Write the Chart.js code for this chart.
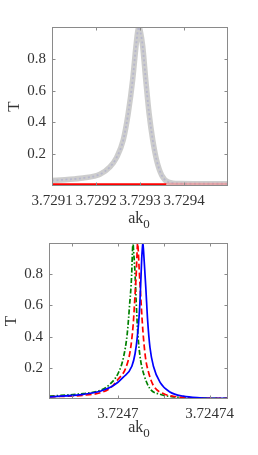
<!DOCTYPE html>
<html><head><meta charset="utf-8">
<script src="https://cdn.jsdelivr.net/npm/chart.js@4.4.0/dist/chart.umd.min.js"></script>
<style>
html,body{margin:0;padding:0;background:#fff;width:258px;height:455px;overflow:hidden}
canvas{position:absolute;left:0}
</style></head><body>
<canvas id="c1" width="258" height="228" style="top:0"></canvas>
<canvas id="c2" width="258" height="227" style="top:228px"></canvas>
<script>
// ---- top panel data ----
const topX = [3.7291000,3.7291300,3.7291705,3.7292091,3.7292318,3.7292470,3.7292620,3.7292734,3.7292834,3.7292909,3.7292950,3.7292977,3.7293010,3.7293061,3.7293130,3.7293205,3.7293289,3.7293380,3.7293493,3.7293643,3.7293909,3.7294360,3.7295000];
const topT = [0.034,0.040,0.050,0.074,0.120,0.180,0.290,0.460,0.670,0.880,0.975,1.000,0.970,0.880,0.670,0.460,0.290,0.160,0.068,0.025,0.015,0.014,0.014];
const topRedX = [3.7291000,3.7293600];
const topRedT = [0.008,0.008];
const topPinkX = [3.7293600,3.7295000];
const topPinkT = [0.012,0.012];
const topXTicks = [3.7291,3.7292,3.7293,3.7294];
const topXTickLabels = ['3.7291','3.7292','3.7293','3.7294'];
const yTicks = [0.2,0.4,0.6,0.8];
const yTickLabels = ['0.2','0.4','0.6','0.8'];

// ---- bottom panel data ----
const blueX = [3.7246703,3.7246850,3.7246923,3.7246981,3.7247024,3.7247061,3.7247075,3.7247085,3.7247094,3.7247100,3.7247104,3.7247107,3.7247109,3.7247111,3.7247115,3.7247122,3.7247130,3.7247140,3.7247155,3.7247184,3.7247227,3.7247285,3.7247358,3.7247478];
const blueT = [0.014,0.030,0.050,0.086,0.140,0.210,0.290,0.400,0.560,0.750,0.900,0.970,1.000,0.970,0.880,0.710,0.500,0.330,0.210,0.107,0.045,0.018,0.008,0.004];
const redX = [3.7246703,3.7246850,3.7246923,3.7246967,3.7247003,3.7247032,3.7247054,3.7247067,3.7247075,3.7247081,3.7247084,3.7247086,3.7247089,3.7247093,3.7247100,3.7247109,3.7247120,3.7247134,3.7247155,3.7247198,3.7247257,3.7247358,3.7247478];
const redT = [0.014,0.024,0.040,0.070,0.130,0.190,0.310,0.480,0.670,0.830,0.950,1.000,0.950,0.830,0.650,0.440,0.270,0.170,0.086,0.035,0.014,0.006,0.004];
const greenX = [3.7246703,3.7246850,3.7246923,3.7246967,3.7247003,3.7247025,3.7247041,3.7247051,3.7247060,3.7247063,3.7247066,3.7247069,3.7247074,3.7247080,3.7247087,3.7247099,3.7247115,3.7247140,3.7247184,3.7247242,3.7247358,3.7247478];
const greenT = [0.018,0.035,0.055,0.097,0.170,0.270,0.420,0.600,0.790,0.920,1.000,0.940,0.830,0.620,0.420,0.250,0.150,0.066,0.030,0.014,0.006,0.004];
const botXTicks = [3.72468,3.7247,3.72472,3.72474];
const botXTickLabels = ['','3.7247','','3.72474'];

const pts = (xs, ys) => xs.map((v, i) => ({x: v, y: ys[i]}));

const FAM = '"Times New Roman","Liberation Serif","DejaVu Serif",serif';
Chart.defaults.font.family = FAM;
Chart.defaults.color = '#333';

const frame = {
  id: 'frame',
  afterDatasetsDraw(chart, args, o) {
    const {ctx, chartArea: a} = chart;
    const xs = chart.scales.x, ys = chart.scales.y;
    ctx.save();
    ctx.strokeStyle = '#8a8a8a';
    ctx.lineWidth = 1;
    const L = Math.round(a.left) + 0.5, R = Math.round(a.right) - 0.5;
    const T = Math.round(a.top) + 0.5, B = Math.round(a.bottom) - 0.5;
    ctx.strokeRect(L, T, R - L, B - T);
    ctx.beginPath();
    xs.ticks.forEach(t => {
      const p = Math.round(xs.getPixelForValue(t.value)) + 0.5;
      ctx.moveTo(p, B); ctx.lineTo(p, B - 3);
      ctx.moveTo(p, T); ctx.lineTo(p, T + 3);
    });
    ys.ticks.forEach(t => {
      const p = Math.round(ys.getPixelForValue(t.value)) + 0.5;
      ctx.moveTo(L, p); ctx.lineTo(L + 3, p);
      ctx.moveTo(R, p); ctx.lineTo(R - 3, p);
    });
    ctx.stroke();
    // x-axis title ak with subscript 0
    ctx.fillStyle = '#333';
    ctx.textBaseline = 'alphabetic';
    ctx.textAlign = 'left';
    ctx.font = '16px ' + FAM;
    const w1 = ctx.measureText('ak').width;
    ctx.font = '13px ' + FAM;
    const w2 = ctx.measureText('0').width;
    const x0 = o.cx - (w1 + w2) / 2;
    const base = a.bottom + o.dy;
    ctx.font = '16px ' + FAM;
    ctx.fillText('ak', x0, base);
    ctx.font = '13px ' + FAM;
    ctx.fillText('0', x0 + w1, base + 5);
    ctx.restore();
  }
};

function makeOpts(cfg) {
  return {
    responsive: false,
    animation: false,
    devicePixelRatio: 1,
    layout: {padding: cfg.pad},
    plugins: {legend: {display: false}, tooltip: {enabled: false}, frame: {cx: cfg.cx, dy: cfg.dy}},
    elements: {point: {radius: 0}, line: {cubicInterpolationMode: 'monotone'}},
    scales: {
      x: {
        type: 'linear', min: cfg.xmin, max: cfg.xmax,
        grid: {display: false, drawTicks: false}, border: {display: false},
        afterBuildTicks: s => { s.ticks = cfg.xticks.map(v => ({value: v})); },
        afterFit: s => { s.height = cfg.xh; },
        ticks: {autoSkip: false, maxRotation: 0, minRotation: 0, padding: cfg.xpad,
          font: {size: 15}, color: '#333',
          callback: (v, i) => cfg.xlabels[i]}
      },
      y: {
        type: 'linear', min: 0, max: 1,
        grid: {display: false, drawTicks: false}, border: {display: false},
        afterBuildTicks: s => { s.ticks = yTicks.map(v => ({value: v})); },
        afterFit: s => { s.width = cfg.yw; },
        ticks: {padding: 6, font: {size: 15}, color: '#333', callback: (v, i) => yTickLabels[i]},
        title: {display: true, text: 'T', font: {size: 17}, color: '#333', padding: cfg.tpad}
      }
    }
  };
}

new Chart(document.getElementById('c1'), {
  type: 'line',
  data: {datasets: [
    {data: pts(topPinkX, topPinkT), borderColor: 'rgba(255,120,120,0.45)', borderWidth: 2.5},
    {data: pts(topRedX, topRedT), borderColor: '#ff0000', borderWidth: 3},
    {data: pts(topX, topT), borderColor: 'rgba(200,200,200,0.9)', borderWidth: 5.5},
    {data: pts(topX, topT), borderColor: '#2020ff', borderWidth: 1.8, borderDash: [2, 2.5]}
  ]},
  options: makeOpts({pad: {top: 27, right: 30, bottom: 0, left: 0}, xmin: 3.7291, xmax: 3.7295,
    xticks: topXTicks, xlabels: topXTickLabels, xh: 42, xpad: 6, yw: 52, cx: 139, dy: 37,
    tpad: {top: 4, bottom: 0}}),
  plugins: [frame]
});

new Chart(document.getElementById('c2'), {
  type: 'line',
  data: {datasets: [
    {data: pts(blueX, blueT), borderColor: '#0000ff', borderWidth: 1.7},
    {data: pts(redX, redT), borderColor: '#ff0000', borderWidth: 1.7, borderDash: [6, 3]},
    {data: pts(greenX, greenT), borderColor: '#008000', borderWidth: 1.7, borderDash: [5, 2, 1.5, 2]}
  ]},
  options: makeOpts({pad: {top: 10, right: 30, bottom: 0, left: 0}, xmin: 3.72467, xmax: 3.724748,
    xticks: botXTicks, xlabels: botXTickLabels, xh: 56, xpad: 6, yw: 49, cx: 139, dy: 33,
    tpad: {top: 1, bottom: 0}}),
  plugins: [frame]
});
</script>
</body></html>
